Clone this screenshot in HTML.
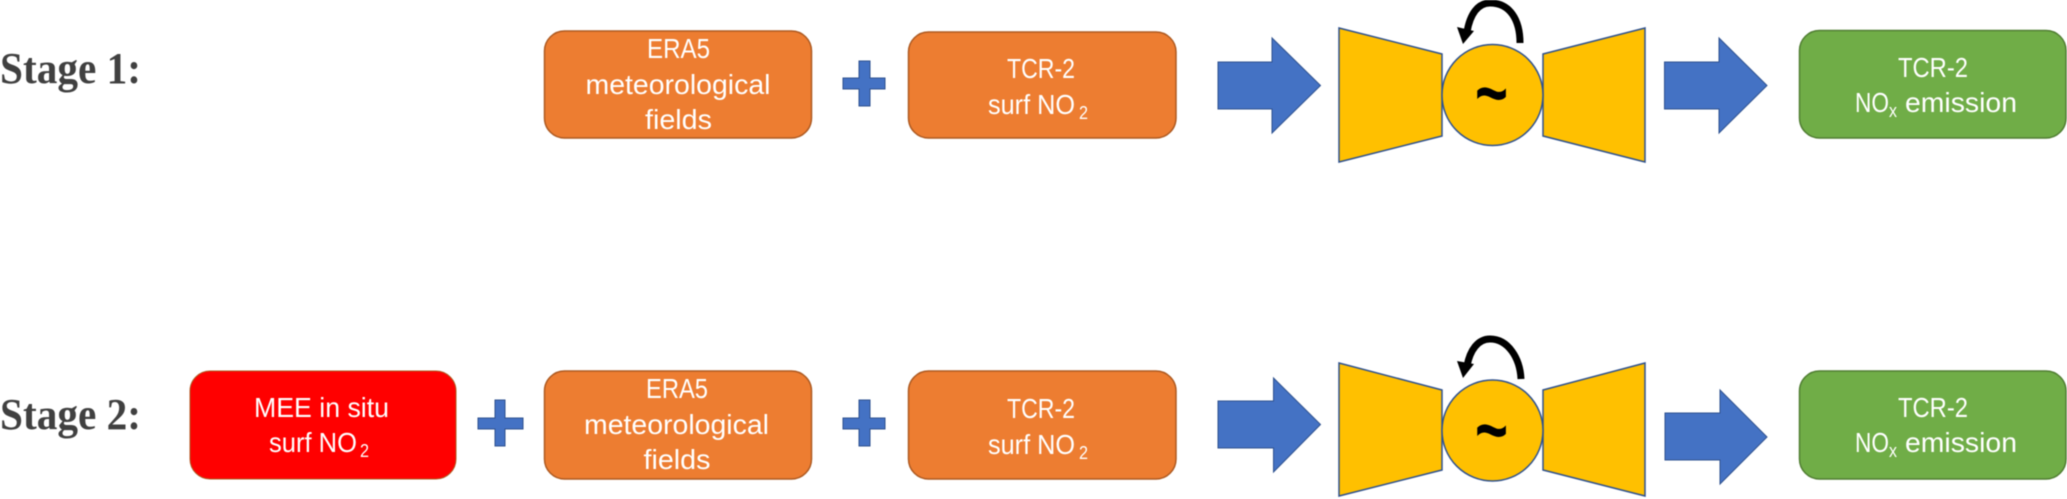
<!DOCTYPE html>
<html lang="en">
<head>
<meta charset="utf-8">
<title>Stage 1 and Stage 2 diagram</title>
<style>
html,body{margin:0;padding:0;background:#fff;width:2067px;height:499px;overflow:hidden}
svg{display:block;filter:blur(0.5px)}
.st{font-family:"Liberation Serif",serif;font-weight:bold;font-size:44px;fill:#404040}
.t{font-family:"Liberation Sans",sans-serif;font-size:28px;fill:#fff}
.s{font-family:"Liberation Sans",sans-serif;font-size:18px;fill:#fff}
.w{font-family:"Liberation Sans",sans-serif;font-weight:bold;font-size:80px;fill:#000}
.or{fill:#ED7D31;stroke:#AE5A21;stroke-width:1.5}
.rd{fill:#FF0000;stroke:#AE5A21;stroke-width:1}
.gr{fill:#70AD47;stroke:#507E32;stroke-width:1.5}
.bl{fill:#4472C4;stroke:#2F528F;stroke-width:1}
.go{fill:#FFC000;stroke:#2F528F;stroke-width:1.5}
.cv{fill:none;stroke:#000;stroke-width:7}
</style>
</head>
<body>
<svg width="2067" height="499" viewBox="0 0 2067 499" xmlns="http://www.w3.org/2000/svg">
<rect width="2067" height="499" fill="#fff"/>

<!-- Stage 1 -->
<text class="st" x="0" y="83" textLength="141" lengthAdjust="spacingAndGlyphs">Stage 1:</text>

<rect class="or" x="544.5" y="31" width="267" height="107" rx="20"/>
<text class="t" x="647" y="58" textLength="63" lengthAdjust="spacingAndGlyphs">ERA5</text>
<text class="t" x="585.5" y="94" textLength="185" lengthAdjust="spacingAndGlyphs">meteorological</text>
<text class="t" x="645" y="129" textLength="67" lengthAdjust="spacingAndGlyphs">fields</text>

<polygon class="bl" points="859,61 870,61 870,78 885,78 885,89 870,89 870,106 859,106 859,89 843,89 843,78 859,78"/>

<rect class="or" x="908.5" y="32" width="267.5" height="106" rx="20"/>
<text class="t" x="1007" y="78" textLength="68" lengthAdjust="spacingAndGlyphs">TCR-2</text>
<text class="t" x="988" y="114" textLength="87" lengthAdjust="spacingAndGlyphs">surf NO</text>
<text class="s" x="1079" y="119" textLength="9" lengthAdjust="spacingAndGlyphs">2</text>

<polygon class="bl" points="1218,62 1272,62 1272,38 1320.5,85.5 1272,133 1272,109 1218,109"/>

<polygon class="go" points="1339,28 1442,54 1442,136 1339,162"/>
<polygon class="go" points="1645,28 1543,54 1543,136 1645,162"/>
<circle class="go" cx="1492.5" cy="95" r="50.5"/>
<text class="w" x="1475" y="120" textLength="33" lengthAdjust="spacingAndGlyphs">~</text>
<path class="cv" d="M1520 43 C1520 20 1510 3 1490 3 C1478 3 1470 14 1467 32"/>
<polygon fill="#000" points="1457,27 1474,31 1463,44"/>

<polygon class="bl" points="1664.5,62 1719,62 1719,38 1767,85.5 1719,133 1719,109 1664.5,109"/>

<rect class="gr" x="1799.5" y="30.5" width="266.5" height="107.5" rx="20"/>
<text class="t" x="1898" y="77" textLength="70" lengthAdjust="spacingAndGlyphs">TCR-2</text>
<text class="t" x="1855" y="112" textLength="34" lengthAdjust="spacingAndGlyphs">NO</text>
<text class="s" x="1889" y="117" textLength="8" lengthAdjust="spacingAndGlyphs">x</text>
<text class="t" x="1905" y="112" textLength="112" lengthAdjust="spacingAndGlyphs">emission</text>

<!-- Stage 2 -->
<text class="st" x="0" y="429" textLength="141" lengthAdjust="spacingAndGlyphs">Stage 2:</text>

<rect class="rd" x="190" y="371" width="266" height="108" rx="20"/>
<text class="t" x="254" y="417" textLength="135" lengthAdjust="spacingAndGlyphs">MEE in situ</text>
<text class="t" x="269" y="452" textLength="88" lengthAdjust="spacingAndGlyphs">surf NO</text>
<text class="s" x="360" y="457" textLength="9" lengthAdjust="spacingAndGlyphs">2</text>

<polygon class="bl" points="495,400 505,400 505,418 523,418 523,429 505,429 505,446 495,446 495,429 478,429 478,418 495,418"/>

<rect class="or" x="544.5" y="371" width="267" height="108" rx="20"/>
<text class="t" x="646" y="398" textLength="62" lengthAdjust="spacingAndGlyphs">ERA5</text>
<text class="t" x="584" y="434" textLength="185" lengthAdjust="spacingAndGlyphs">meteorological</text>
<text class="t" x="643.5" y="469" textLength="67" lengthAdjust="spacingAndGlyphs">fields</text>

<polygon class="bl" points="859,400 870,400 870,418 885,418 885,429 870,429 870,446 859,446 859,429 843,429 843,418 859,418"/>

<rect class="or" x="908.5" y="371" width="267.5" height="108" rx="20"/>
<text class="t" x="1007" y="418" textLength="68" lengthAdjust="spacingAndGlyphs">TCR-2</text>
<text class="t" x="988" y="454" textLength="87" lengthAdjust="spacingAndGlyphs">surf NO</text>
<text class="s" x="1079" y="459" textLength="9" lengthAdjust="spacingAndGlyphs">2</text>

<polygon class="bl" points="1218,401 1273.5,401 1273.5,378 1320.5,424.5 1273.5,472 1273.5,448 1218,448"/>

<polygon class="go" points="1339,363 1442,390 1442,470 1339,496"/>
<polygon class="go" points="1645,363 1543,390 1543,470 1645,496"/>
<circle class="go" cx="1492.5" cy="430.5" r="50.5"/>
<text class="w" x="1475" y="457" textLength="33" lengthAdjust="spacingAndGlyphs">~</text>
<path class="cv" d="M1521 379 C1520 358 1508 339 1490 339 C1478 339 1470 350 1467 366"/>
<polygon fill="#000" points="1457,361 1474,364 1463,378"/>

<polygon class="bl" points="1665,413 1720,413 1720,390 1767,437 1720,484 1720,460 1665,460"/>

<rect class="gr" x="1799.5" y="371" width="266.5" height="108" rx="20"/>
<text class="t" x="1898" y="417" textLength="70" lengthAdjust="spacingAndGlyphs">TCR-2</text>
<text class="t" x="1855" y="452" textLength="34" lengthAdjust="spacingAndGlyphs">NO</text>
<text class="s" x="1889" y="457" textLength="8" lengthAdjust="spacingAndGlyphs">x</text>
<text class="t" x="1905" y="452" textLength="112" lengthAdjust="spacingAndGlyphs">emission</text>
</svg>
</body>
</html>
